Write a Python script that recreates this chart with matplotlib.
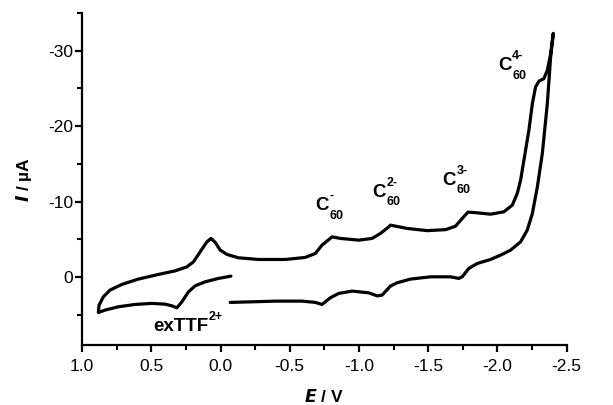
import matplotlib
matplotlib.use("Agg")
import matplotlib.pyplot as plt
from matplotlib.ticker import MultipleLocator

plt.rcParams['font.family'] = ['Liberation Sans', 'DejaVu Sans']
plt.rcParams['mathtext.fontset'] = 'custom'
plt.rcParams['mathtext.rm'] = 'Liberation Sans'
plt.rcParams['mathtext.it'] = 'Liberation Sans:italic'
plt.rcParams['mathtext.bf'] = 'Liberation Sans:bold'

# potential (V) and current (uA), in scan order
E = [-0.075, 0.014, 0.111, 0.183, 0.231, 0.279, 0.315, 0.351, 0.400, 0.496,
     0.617, 0.738, 0.834, 0.882, 0.877, 0.846, 0.798, 0.713, 0.593, 0.448,
     0.328, 0.243, 0.195, 0.147, 0.098, 0.069, 0.038, 0.002, -0.046, -0.130,
     -0.275, -0.468, -0.612, -0.685, -0.733, -0.806, -0.866, -0.998, -1.095, -1.155,
     -1.215, -1.227, -1.348, -1.492, -1.625, -1.697, -1.745, -1.787, -1.854, -1.950,
     -2.046, -2.107, -2.143, -2.167, -2.191, -2.227, -2.252, -2.275, -2.299, -2.335,
     -2.360, -2.384, -2.403,
     -2.384, -2.360, -2.324, -2.288, -2.252, -2.215, -2.167, -2.095, -2.022, -1.950,
     -1.854, -1.793, -1.745, -1.721, -1.661, -1.516, -1.372, -1.275, -1.227, -1.167,
     -1.131, -1.070, -0.950, -0.853, -0.793, -0.733, -0.685, -0.589, -0.396, -0.227,
     -0.070]
I = [-0.13, 0.17, 0.62, 1.15, 1.95, 3.27, 4.07, 3.80, 3.58, 3.48,
     3.62, 3.93, 4.37, 4.68, 3.71, 2.61, 1.72, 0.97, 0.26, -0.36,
     -0.83, -1.36, -2.03, -3.35, -4.68, -5.13, -4.60, -3.58, -3.01, -2.56,
     -2.34, -2.34, -2.61, -3.14, -4.24, -5.34, -5.13, -4.90, -5.13, -5.79,
     -6.66, -6.89, -6.45, -6.16, -6.29, -6.75, -7.77, -8.61, -8.52, -8.34,
     -8.65, -9.54, -11.09, -12.85, -15.50, -19.47, -23.0, -25.2, -25.96, -26.3,
     -27.4, -29.6, -32.3,
     -29.2, -23.0, -16.4, -11.96, -8.44, -6.23, -4.68, -3.58, -2.91, -2.34,
     -1.81, -1.15, -0.04, 0.17, -0.04, -0.04, 0.26, 0.75, 1.19, 2.38,
     2.48, 2.08, 1.85, 2.16, 2.74, 3.62, 3.35, 3.18, 3.18, 3.27,
     3.35]

# peak labels (main text, subscript, superscript)
lab_main = ['C', 'C', 'C', 'C', 'exTTF']
lab_sub = ['60', '60', '60', '60', '']
lab_sup = ['-', '2-', '3-', '4-', '2+']
label_E = [-0.685, -1.095, -1.601, -2.003, 0.487]
label_I = [-8.87, -10.64, -12.19, -27.4, 7.15]

fig = plt.figure(figsize=(6.13, 4.05), dpi=100)
ax = fig.add_axes([0.1338, 0.148, 0.7907, 0.820])

ax.plot(E, I, color='black', lw=2.3, solid_joinstyle='round', solid_capstyle='round')

for m, sb, sp, x, y in zip(lab_main, lab_sub, lab_sup, label_E, label_I):
    ax.annotate(m, (x, y), fontsize=13.5, fontweight='bold', ha='left', va='baseline')
    # width of main text in points, to put the indices right after it
    w = 9.8 if m == 'C' else 39.5
    ax.annotate(sb, (x, y), xytext=(w + 0.5, -6), textcoords='offset points',
                fontsize=9, fontweight='bold', ha='left', va='baseline')
    ax.annotate(sp, (x, y), xytext=(w + 0.5, 8), textcoords='offset points',
                fontsize=9, fontweight='bold', ha='left', va='baseline')

ax.set_xlim(1.0, -2.5)
ax.set_ylim(9, -35)
ax.xaxis.set_minor_locator(MultipleLocator(0.25))
ax.yaxis.set_minor_locator(MultipleLocator(5))
ax.set_xticks([1.0, 0.5, 0.0, -0.5, -1.0, -1.5, -2.0, -2.5])
ax.set_xticklabels(['1.0', '0.5', '0.0', '-0.5', '-1.0', '-1.5', '-2.0', '-2.5'])
ax.set_yticks([0, -10, -20, -30])
ax.set_yticklabels(['0', '-10', '-20', '-30'])

for s in ['top', 'right']:
    ax.spines[s].set_visible(False)
for s in ['left', 'bottom']:
    ax.spines[s].set_linewidth(1.6)
ax.tick_params(which='major', length=5, width=1.6, labelsize=12.5, direction='out')
ax.tick_params(which='minor', length=3.5, width=1.5, direction='out')
ax.tick_params(axis='y', which='major', pad=1.5)
ax.tick_params(axis='x', which='major', pad=5)

ax.set_xlabel(r'$\mathbfit{E}$' + ' / V', fontsize=12.5, fontweight='bold', labelpad=10)
ax.set_ylabel(r'$\mathbfit{I}$' + ' / µA', fontsize=12.5, fontweight='bold', labelpad=10)

fig.savefig('out.png', dpi=100)
